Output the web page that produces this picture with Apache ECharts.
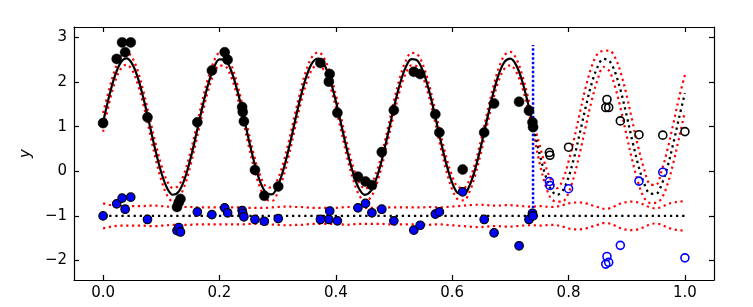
<!DOCTYPE html>
<html>
<head>
<meta charset="utf-8">
<script src="https://cdn.jsdelivr.net/npm/echarts@6/dist/echarts.min.js"></script>
<style>html,body{margin:0;padding:0;background:#fff}#c{width:753px;height:307px}</style>
</head>
<body>
<div id="c"></div>
<script>
// ---- data ----
// prediction grid step 0.01 from 0 to 1
const mean1 = [1.098,1.659,2.126,2.431,2.530,2.409,2.085,1.606,1.040,0.467,
 -0.028,-0.376,-0.526,-0.457,-0.178,0.271,0.824,1.402,1.923,2.311,
 2.510,2.493,2.260,1.847,1.312,0.731,0.190,-0.235,-0.482,-0.517,
 -0.333,0.043,0.556,1.133,1.691,2.149,2.443,2.529,2.395,2.060,
 1.574,1.005,0.435,-0.054,-0.391,-0.528,-0.446,-0.155,0.302,0.859,
 1.436,1.951,2.329,2.516,2.485,2.240,1.818,1.277,0.697,0.160,
 -0.255,-0.491,-0.512,-0.316,0.070,0.589,1.167,1.721,2.172,2.454,
 2.527,2.380,2.035,1.541,0.970,0.402,-0.079,-0.405,-0.530,-0.434,
 -0.132,0.333,0.893,1.469,1.978,2.345,2.520,2.476,2.220,1.788,
 1.243,0.663,0.132,-0.275,-0.498,-0.506,-0.297,0.097,0.622,1.202,
 1.752];
const sigma1 = [0.21,0.16,0.14,0.14,0.14,0.14,0.15,0.15,0.16,0.17,
 0.17,0.16,0.15,0.14,0.15,0.15,0.15,0.15,0.14,0.14,
 0.14,0.14,0.14,0.14,0.14,0.15,0.14,0.14,0.14,0.15,
 0.15,0.16,0.16,0.16,0.15,0.15,0.14,0.14,0.14,0.14,
 0.14,0.15,0.15,0.14,0.14,0.14,0.14,0.14,0.14,0.14,
 0.15,0.14,0.14,0.14,0.14,0.14,0.14,0.14,0.15,0.15,
 0.15,0.14,0.14,0.14,0.14,0.14,0.14,0.14,0.14,0.15,
 0.15,0.15,0.14,0.14,0.14,0.20,0.22,0.21,0.15,0.24,
 0.35,0.42,0.45,0.44,0.38,0.29,0.18,0.23,0.33,0.41,
 0.45,0.44,0.40,0.32,0.21,0.20,0.31,0.39,0.44,0.45,
 0.41];
const mean2 = [-1,-1,-1,-1,-1,-1,-1,-1,-1,-1,-1,-1,-1,-1,-1,-1,-1,-1,-1,-1,
 -1,-1,-1,-1,-1,-1,-1,-1,-1,-1,-1,-1,-1,-1,-1,-1,-1,-1,-1,-1,
 -1,-1,-1,-1,-1,-1,-1,-1,-1,-1,-1,-1,-1,-1,-1,-1,-1,-1,-1,-1,
 -1,-1,-1,-1,-1,-1,-1,-1,-1,-1,-1,-1,-1,-1,-1,-1,-1,-1,-1,-1,
 -1,-1,-1,-1,-1,-1,-1,-1,-1,-1,-1,-1,-1,-1,-1,-1,-1,-1,-1,-1,-1];
const sigma2 = [0.28,0.25,0.23,0.22,0.22,0.22,0.22,0.22,0.23,0.23,
 0.22,0.21,0.20,0.20,0.20,0.20,0.19,0.19,0.19,0.19,
 0.19,0.19,0.19,0.19,0.19,0.18,0.18,0.18,0.18,0.19,
 0.20,0.21,0.21,0.20,0.20,0.19,0.18,0.18,0.18,0.18,
 0.18,0.19,0.20,0.19,0.18,0.18,0.18,0.18,0.18,0.19,
 0.19,0.19,0.19,0.19,0.19,0.19,0.20,0.19,0.19,0.20,
 0.21,0.22,0.23,0.24,0.25,0.25,0.24,0.23,0.23,0.24,
 0.24,0.23,0.22,0.21,0.21,0.22,0.21,0.20,0.21,0.24,
 0.28,0.30,0.30,0.28,0.24,0.20,0.16,0.17,0.22,0.28,
 0.31,0.32,0.30,0.25,0.19,0.17,0.20,0.26,0.30,0.32,
 0.33];
const splitIndex = 74;          // last grid point of the fitted (solid) part
const splitLineX = 0.739;
const splitLineY = [-0.93, 2.83];

// observed training data
const trainX = [0.000,0.0234,0.0327,0.0379,0.0475,0.0763,0.127,0.130,0.133,0.162,
 0.187,0.209,0.214,0.239,0.240,0.242,0.261,0.277,0.301,0.3735,
 0.388,0.3895,0.4027,0.438,0.451,0.462,0.479,0.4997,0.534,0.545,
 0.571,0.578,0.618,0.655,0.672,0.715,0.732,0.738,0.739];
const trainY1 = [1.08,2.52,2.89,2.67,2.89,1.21,-0.80,-0.70,-0.62,1.10,
 2.26,2.67,2.50,1.44,1.33,1.12,0.03,-0.55,-0.34,2.43,
 2.01,2.18,1.31,-0.12,-0.23,-0.31,0.43,1.37,2.23,2.18,
 1.28,0.87,0.04,0.87,1.52,1.56,1.36,1.10,0.99];
const trainY2 = [-1.00,-0.73,-0.60,-0.85,-0.58,-1.08,-1.33,-1.26,-1.36,-0.91,
 -0.97,-0.82,-0.93,-0.88,-0.94,-1.02,-1.08,-1.12,-1.06,-1.08,
 -1.08,-0.89,-1.11,-0.82,-0.72,-0.93,-0.85,-1.11,-1.32,-1.21,
 -0.96,-0.91,-0.46,-1.08,-1.38,-1.67,-1.08,-0.94,-1.00];
// held-out test data
const testX = [0.767,0.768,0.800,0.866,0.864,0.869,0.889,0.921,0.962,1.000];
const testY1 = [0.42,0.36,0.54,1.61,1.43,1.43,1.13,0.82,0.81,0.89];
const testY2 = [-0.23,-0.32,-0.39,-1.91,-2.08,-2.04,-1.66,-0.22,-0.02,-1.94];

const xTicks = [0.0,0.2,0.4,0.6,0.8,1.0];
const yTicks = [-2,-1,0,1,2,3];

// ---- build ----
const gx = mean1.map((_, i) => i / 100);
const pts = (ys) => ys.map((y, i) => [gx[i], y]);
const up1 = pts(mean1.map((m, i) => m + sigma1[i]));
const lo1 = pts(mean1.map((m, i) => m - sigma1[i]));
const up2 = pts(mean2.map((m, i) => m + sigma2[i]));
const lo2 = pts(mean2.map((m, i) => m - sigma2[i]));
const m1 = pts(mean1);
const m1fit = m1.slice(0, splitIndex + 1);
const m1pred = m1.slice(splitIndex);
const m2 = pts(mean2);
const pair = (xs, ys) => xs.map((x, i) => [x, ys[i]]);

const FONT = 'DejaVu Sans';
const dotted = (color, w) => ({ color: color, width: w, type: [w, w * 1.65], cap: 'butt' });
const lineS = (data, style, z) => ({
  type: 'line', data: data, showSymbol: false, symbol: 'none', smooth: 0.35,
  lineStyle: style, z: z || 2, silent: true, animation: false
});

const chart = echarts.init(document.getElementById('c'), null, { renderer: 'canvas' });
const axisCommonX = {
  type: 'value', min: -0.05, max: 1.05,
  axisLine: { show: true, onZero: false, lineStyle: { color: '#000', width: 1.2 } },
  axisTick: { show: true, inside: true, length: 5, customValues: xTicks, lineStyle: { color: '#000', width: 1.2 } },
  splitLine: { show: false }
};
const axisCommonY = {
  type: 'value', min: -2.437, max: 3.235,
  axisLine: { show: true, onZero: false, lineStyle: { color: '#000', width: 1.2 } },
  axisTick: { show: true, inside: true, length: 5, customValues: yTicks, lineStyle: { color: '#000', width: 1.2 } },
  splitLine: { show: false }
};
chart.setOption({
  animation: false,
  backgroundColor: '#fff',
  grid: { left: 74, right: 39, top: 27, bottom: 27, containLabel: false },
  xAxis: [
    Object.assign({}, axisCommonX, { position: 'bottom',
      axisLabel: { show: true, customValues: xTicks, margin: 6, color: '#000', fontSize: 15, fontFamily: FONT,
        formatter: v => Number(v).toFixed(1) } }),
    Object.assign({}, axisCommonX, { position: 'top', axisLabel: { show: false } })
  ],
  yAxis: [
    Object.assign({}, axisCommonY, { position: 'left',
      name: 'y', nameLocation: 'middle', nameRotate: 90, nameGap: 36,
      nameTextStyle: { color: '#000', fontSize: 15, fontFamily: FONT, fontStyle: 'italic' },
      axisLabel: { show: true, customValues: yTicks, margin: 7, color: '#000', fontSize: 15, fontFamily: FONT,
        formatter: v => String(v).replace('-', '\u2212') } }),
    Object.assign({}, axisCommonY, { position: 'right', axisLabel: { show: false } })
  ],
  series: [
    lineS(up1, dotted('#ff0000', 2.2)),
    lineS(lo1, dotted('#ff0000', 2.2)),
    lineS(up2, dotted('#ff0000', 2.2)),
    lineS(lo2, dotted('#ff0000', 2.2)),
    lineS(m2, dotted('#000000', 2.3)),
    lineS(m1fit, { color: '#000', width: 2.2, type: 'solid' }, 3),
    lineS(m1pred, dotted('#000000', 2.3)),
    { type: 'line', data: [[splitLineX, splitLineY[0]], [splitLineX, splitLineY[1]]], symbol: 'none',
      lineStyle: { color: '#0000ff', width: 2.5, type: [2.5, 2], cap: 'butt' }, z: 3, silent: true },
    { type: 'scatter', data: pair(trainX, trainY1), symbol: 'circle', symbolSize: 10,
      itemStyle: { color: '#000', borderColor: '#000', borderWidth: 0.5, opacity: 1 }, z: 5, silent: true },
    { type: 'scatter', data: pair(trainX, trainY2), symbol: 'circle', symbolSize: 8.5,
      itemStyle: { color: '#0000ff', borderColor: '#000', borderWidth: 1.2, opacity: 1 }, z: 5, silent: true },
    { type: 'scatter', data: pair(testX, testY1), symbol: 'circle', symbolSize: 8,
      itemStyle: { color: 'rgba(0,0,0,0)', borderColor: '#000', borderWidth: 1.6, opacity: 1 }, z: 5, silent: true },
    { type: 'scatter', data: pair(testX, testY2), symbol: 'circle', symbolSize: 8,
      itemStyle: { color: 'rgba(0,0,0,0)', borderColor: '#0000ff', borderWidth: 1.6, opacity: 1 }, z: 5, silent: true }
  ]
});
</script>
</body>
</html>
